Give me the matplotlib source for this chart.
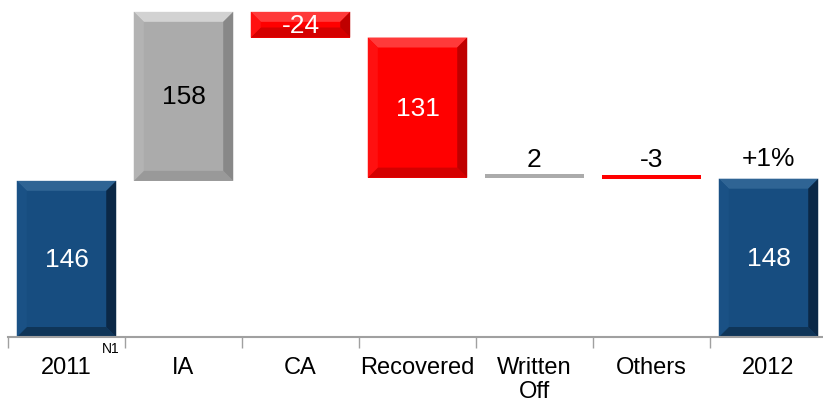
import matplotlib.pyplot as plt
from matplotlib.patches import Polygon
import numpy as np

plt.rcParams['font.family'] = ['Liberation Sans', 'DejaVu Sans']

categories = ['2011', 'IA', 'CA', 'Recovered', 'Written\nOff', 'Others', '2012']
changes = [146, 158, -24, -131, 2, -3, 148]
kinds = ['total', 'up', 'down', 'down', 'up', 'down', 'total']
labels = ['146', '158', '-24', '131', '2', '-3', '148']
growth = '+1%'

# colour sets: face, top, bottom, left, right, text
palette = {
    'total': ('#174D80', '#2F6494', '#0F3558', '#1A5185', '#0B2846', 'white'),
    'up': ('#ABABAB', '#D2D2D2', '#999999', '#B3B3B3', '#888888', 'black'),
    'down': ('#FF0000', '#FF3A3A', '#D40000', '#FF1010', '#BF0000', 'white'),
}

# waterfall levels
bottoms, tops = [], []
level = 0
for c, k in zip(changes, kinds):
    if k == 'total':
        lo, hi = 0, c
        level = c
    else:
        lo, hi = sorted([level, level + c])
        level += c
    bottoms.append(lo)
    tops.append(hi)

fig = plt.figure(figsize=(8.23, 4.02), dpi=100)
ax = fig.add_axes([8 / 823, 64 / 402, 819 / 823, 338 / 402])
ax.set_xlim(-0.5, len(categories) - 0.5)
ax.set_ylim(0, 316)

# pixels per data unit, for the bevel size
px_x = 819 / len(categories)
px_y = 338 / 316
width = 0.85

for i, (lo, hi, k) in enumerate(zip(bottoms, tops, kinds)):
    face, top, bot, left, right, tc = palette[k]
    x0, x1 = i - width / 2, i + width / 2
    h_px = (hi - lo) * px_y
    ax.bar(i, max(hi - lo, 3.5 / px_y), bottom=lo, width=width, color=face, linewidth=0)
    if h_px > 8:
        b = min(10, h_px / 2.5)
        bx, by = b / px_x, b / px_y
        polys = [
            ([(x0, hi), (x1, hi), (x1 - bx, hi - by), (x0 + bx, hi - by)], top),
            ([(x0, lo), (x1, lo), (x1 - bx, lo + by), (x0 + bx, lo + by)], bot),
            ([(x0, lo), (x0 + bx, lo + by), (x0 + bx, hi - by), (x0, hi)], left),
            ([(x1, lo), (x1 - bx, lo + by), (x1 - bx, hi - by), (x1, hi)], right),
        ]
        for pts, col in polys:
            ax.add_patch(Polygon(pts, closed=True, facecolor=col, edgecolor='none'))
        ax.text(i, (lo + hi) / 2, labels[i], ha='center', va='center',
                fontsize=19, color=tc)
    else:
        ax.text(i, hi + 4, labels[i], ha='center', va='bottom',
                fontsize=19, color='black')

ax.text(6, tops[6] + 8, growth, ha='center', va='bottom', fontsize=19)

# axis
for s in ['top', 'right', 'left']:
    ax.spines[s].set_visible(False)
ax.spines['bottom'].set_color('#A0A0A0')
ax.spines['bottom'].set_linewidth(1.5)
ax.set_yticks([])
ax.set_xticks(np.arange(-0.5, len(categories)), minor=False)
ax.set_xticklabels([])
ax.tick_params(axis='x', direction='out', length=8, color='#A0A0A0', width=1)
ax.set_xticks(np.arange(len(categories)), minor=True)
ax.set_xticklabels(categories, minor=True, fontsize=17, linespacing=1.1,
                   va='top')
ax.tick_params(axis='x', which='minor', length=0, pad=14)

ax.annotate('N1', xy=(0.38, 0), xytext=(0, -3), textcoords='offset points',
            ha='center', va='top', fontsize=10, annotation_clip=False)

fig.savefig('out.png', dpi=100)
